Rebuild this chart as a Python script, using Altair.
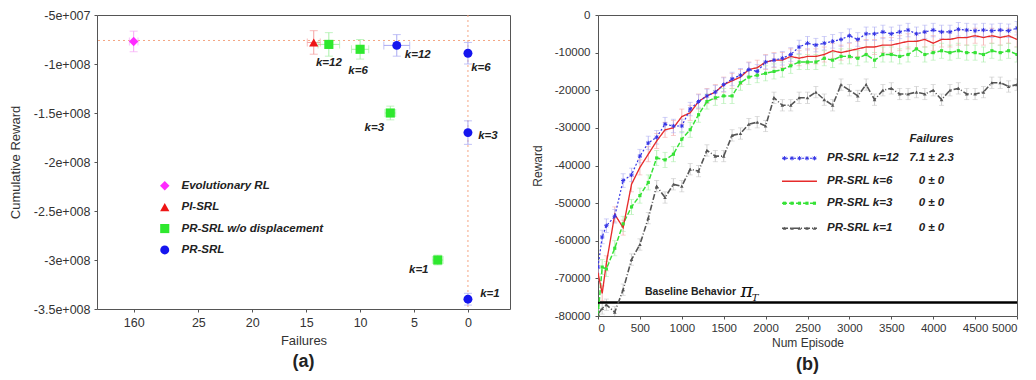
import altair as alt
import pandas as pd
import numpy as np

FONT = "Liberation Sans"
TXT = "#222222"

# ---------------- panel (a) values ----------------
a_methods = ["Evolutionary RL", "PI-SRL", "PR-SRL w/o displacement", "PR-SRL"]
a_method = ["Evolutionary RL", "PI-SRL",
            "PR-SRL w/o displacement", "PR-SRL w/o displacement",
            "PR-SRL w/o displacement", "PR-SRL w/o displacement",
            "PR-SRL", "PR-SRL", "PR-SRL", "PR-SRL"]
a_k = ["", "", "k=12", "k=6", "k=3", "k=1", "k=12", "k=6", "k=3", "k=1"]
a_failures = [160, 14.3, 12.9, 10.0, 7.2, 2.8, 6.6, 0, 0, 0]
a_failures_err = [0.4, 0.6, 1.0, 0.8, 0.5, 0.5, 1.2, 0, 0, 0]
a_reward = [-7.7e7, -7.8e7, -8.0e7, -8.5e7, -1.5e8, -3.0e8, -8.1e7, -8.9e7, -1.7e8, -3.4e8]
a_reward_err = [1.05e7, 1.2e7, 1.2e7, 1.0e7, 0.7e7, 0.5e7, 1.1e7, 1.1e7, 1.2e7, 0.6e7]
a_ref_reward = -7.6e7
a_ref_failures = 0
a_xticks = [160, 25, 20, 15, 10, 5, 0]
a_yticks = [-5e7, -1e8, -1.5e8, -2e8, -2.5e8, -3e8, -3.5e8]
a_ylabels = ["-5e+007", "-1e+008", "-1.5e+008", "-2e+008", "-2.5e+008", "-3e+008", "-3.5e+008"]

# ---------------- panel (b) values ----------------
b_series = ["PR-SRL k=12", "PR-SRL k=6", "PR-SRL k=3", "PR-SRL k=1"]
b_fail_mean = [7.1, 0, 0, 0]
b_fail_sd = [2.3, 0, 0, 0]
b_episodes = [0, 50, 100, 200, 300, 400, 500, 600, 700, 800, 900, 1000,
              1100, 1200, 1300, 1400, 1500, 1600, 1700, 1800, 1900, 2000,
              2100, 2200, 2300, 2400, 2500, 2600, 2700, 2800, 2900, 3000,
              3100, 3200, 3300, 3400, 3500, 3600, 3700, 3800, 3900, 4000,
              4100, 4200, 4300, 4400, 4500, 4600, 4700, 4800, 4900, 5000]
b_k12 = [-67000, -59000, -56000, -53500, -44000, -42500, -37500, -34000, -32500, -29000, -29500, -29500,
         -25000, -23000, -21500, -20500, -18500, -17000, -16000, -14500, -15000, -12500,
         -12000, -11500, -10500, -8500, -7500, -8000, -7500, -7000, -6500, -5500,
         -6500, -5000, -5000, -4500, -5000, -4500, -4000, -5000, -4500, -4000,
         -4500, -4500, -3800, -4000, -4200, -4000, -4200, -4000, -4200, -3500]
b_k6 = [-68500, -74000, -66000, -53000, -56500, -45000, -40500, -37000, -33500, -30500, -30000, -27000,
        -26000, -23000, -21500, -20500, -18500, -17500, -16500, -14500, -14000, -12500,
        -12000, -12000, -11000, -11500, -11000, -11000, -10500, -9500, -10000, -9500,
        -9000, -8500, -8500, -8000, -8000, -7500, -7000, -7000, -6500, -7500,
        -6500, -6500, -6000, -6000, -5500, -6000, -5500, -6000, -5500, -6500]
b_k3 = [-80000, -67000, -67500, -62000, -55500, -51000, -48000, -44500, -38000, -38500, -37000, -33000,
        -30500, -26500, -23000, -22000, -21500, -21500, -18000, -16500, -16000, -15500,
        -15000, -14500, -13500, -12500, -12500, -12500, -11500, -12000, -11000, -11000,
        -11500, -10500, -12000, -10500, -10500, -11000, -10500, -9000, -10500, -10000,
        -9500, -10000, -9500, -10000, -10000, -10500, -9500, -10000, -9500, -10500]
b_k1 = [-79500, -78000, -77000, -79000, -73000, -65000, -61000, -54000, -45500, -48500, -45000, -45500,
        -41000, -41500, -36000, -37500, -37500, -32000, -31500, -29000, -28500, -29500,
        -22000, -24000, -24000, -22000, -22000, -20500, -22500, -24000, -18500, -20000,
        -21500, -18500, -22500, -20000, -19500, -21000, -21000, -20500, -21000, -20000,
        -22500, -20000, -19500, -21000, -21000, -20500, -18000, -18000, -19000, -18500]
b_err = [1800, 2000, 2000, 1500]
b_baseline = -76400
b_xticks = [0, 500, 1000, 1500, 2000, 2500, 3000, 3500, 4000, 4500, 5000]
b_yticks = [0, -10000, -20000, -30000, -40000, -50000, -60000, -70000, -80000]

# ---------------- styles / layout ----------------
a_colors = ["#ff2bff", "#ee1515", "#2ee82e", "#1515ee"]
a_err_colors = {"Evolutionary RL": "#f7a8f7", "PI-SRL": "#f5a0a0",
                "PR-SRL w/o displacement": "#a8f0a8", "PR-SRL": "#a8a8f2"}
a_shapes = ["diamond", "triangle-up", "square", "circle"]
a_sizes = [90, 80, 140, 100]
BREAK_AT, BREAK_POS = 30, 31
k_offsets = {2: (0, 19), 3: (-2, 22), 4: (-16, 15), 5: (-19, 10),
             6: (21, 10), 7: (13, 15), 8: (20, 3), 9: (22, -5)}

b_colors = ["#3535e6", "#e62b2b", "#36e236", "#555555"]
b_err_colors = ["#b0b0f2", "#f2a8a8", "#aaeeaa", "#c4c4c4"]
b_dashes = [[2, 2], [1, 0], [5, 2], [6, 2, 1, 2]]
b_widths = [1.2, 1.6, 1.3, 1.0]
LEG_SAMPLE = (2196, 2613)
LEG_LABEL_X = 2733
LEG_FAIL_X = 3980
LEG_ROWS = [-38070, -44190, -50030, -56680]
LEG_HEAD_Y = -33020

# ================= panel (a) =================
pos = [BREAK_POS if f > BREAK_AT else f for f in a_failures]
df_a = pd.DataFrame(dict(method=a_method, k=a_k, failures=a_failures, pos=pos,
                         reward=a_reward, rerr=a_reward_err, ferr=a_failures_err))
df_a["r_lo"] = df_a.reward - df_a.rerr
df_a["r_hi"] = df_a.reward + df_a.rerr
df_a["p_lo"] = df_a.pos - df_a.ferr
df_a["p_hi"] = df_a.pos + df_a.ferr
df_a["ecol"] = df_a.method.map(a_err_colors)

a_xtick_pos = [BREAK_POS if v > BREAK_AT else v for v in a_xticks]
x_label_expr = f"datum.value == {BREAK_POS} ? '{a_xticks[0]}' : toString(datum.value)"
y_label_expr = " : ".join(f"datum.value == {int(v)} ? '{lab}'" for v, lab in zip(a_yticks, a_ylabels)) + " : datum.label"

a_xscale = alt.Scale(domain=[-3.9, 34.4], reverse=True, nice=False, zero=False)
a_yscale = alt.Scale(domain=[-3.5e8, -5e7], nice=False, zero=False)
a_xaxis = alt.Axis(values=a_xtick_pos, labelExpr=x_label_expr, title="Failures",
                   labelFontSize=12.5, titleFontSize=13, labelPadding=4, titlePadding=6)
a_yaxis = alt.Axis(values=a_yticks, labelExpr=y_label_expr, title="Cumulative Reward",
                   labelFontSize=12.5, titleFontSize=13, labelPadding=4, titlePadding=11)


def xa(f):
    return alt.X(f, type="quantitative", scale=a_xscale, axis=a_xaxis)


def ya(f):
    return alt.Y(f, type="quantitative", scale=a_yscale, axis=a_yaxis)


ref_h = alt.Chart(pd.DataFrame({"reward": [a_ref_reward]})).mark_rule(
    color="#f4a582", strokeDash=[2, 3], strokeWidth=1).encode(y=ya("reward"))
ref_v = alt.Chart(pd.DataFrame({"pos": [a_ref_failures]})).mark_rule(
    color="#f4a582", strokeDash=[2, 3], strokeWidth=1).encode(x=xa("pos"))

base_a = alt.Chart(df_a)
err_y = base_a.mark_rule(strokeWidth=1).encode(
    x=xa("pos"), y=ya("r_lo"), y2="r_hi", stroke=alt.Stroke("ecol:N", scale=None))
cap_lo = base_a.mark_tick(orient="horizontal", size=8, thickness=1).encode(
    x=xa("pos"), y=ya("r_lo"), fill=alt.Fill("ecol:N", scale=None))
cap_hi = base_a.mark_tick(orient="horizontal", size=8, thickness=1).encode(
    x=xa("pos"), y=ya("r_hi"), fill=alt.Fill("ecol:N", scale=None))
base_ax = alt.Chart(df_a[df_a.ferr > 0])
err_x = base_ax.mark_rule(strokeWidth=1).encode(
    x=xa("p_lo"), x2="p_hi", y=ya("reward"), stroke=alt.Stroke("ecol:N", scale=None))
capx_lo = base_ax.mark_tick(orient="vertical", size=8, thickness=1).encode(
    x=xa("p_lo"), y=ya("reward"), fill=alt.Fill("ecol:N", scale=None))
capx_hi = base_ax.mark_tick(orient="vertical", size=8, thickness=1).encode(
    x=xa("p_hi"), y=ya("reward"), fill=alt.Fill("ecol:N", scale=None))

leg_a = alt.Legend(orient="none", legendX=62, legendY=165, title=None,
                   labelFont=FONT, labelFontSize=11.5, labelFontWeight="bold",
                   labelFontStyle="italic", labelColor=TXT, symbolSize=95,
                   rowPadding=8.4, labelOffset=11, padding=0)
pts_a = base_a.mark_point(filled=True, opacity=1).encode(
    x=xa("pos"), y=ya("reward"),
    color=alt.Color("method:N", scale=alt.Scale(domain=a_methods, range=a_colors), legend=leg_a),
    shape=alt.Shape("method:N", scale=alt.Scale(domain=a_methods, range=a_shapes), legend=leg_a),
    size=alt.Size("method:N", scale=alt.Scale(domain=a_methods, range=a_sizes), legend=None),
)

k_layers = []
for i, (dx, dy) in k_offsets.items():
    k_layers.append(
        alt.Chart(df_a.iloc[[i]]).mark_text(
            dx=dx, dy=dy, font=FONT, fontSize=11.5, fontWeight="bold", fontStyle="italic",
            color=TXT, align="center", baseline="middle").encode(
            x=xa("pos"), y=ya("reward"), text="k:N"))

left = alt.layer(ref_h, ref_v, err_y, cap_lo, cap_hi, err_x, capx_lo, capx_hi, pts_a, *k_layers).properties(
    width=413, height=294,
    title=alt.TitleParams("(a)", orient="bottom", font=FONT, fontSize=18, fontWeight="bold",
                          color=TXT, offset=5))

# ================= panel (b) =================
b_values = [b_k12, b_k6, b_k3, b_k1]
rows = []
for s, vals, e, ec in zip(b_series, b_values, b_err, b_err_colors):
    for ep, r in zip(b_episodes, vals):
        rows.append(dict(series=s, ep=ep, reward=r, lo=r - e, hi=r + e, ecol=ec))
df_b = pd.DataFrame(rows)
draw_rank = {s: i for i, s in enumerate(reversed(b_series))}
df_b["rank"] = df_b.series.map(draw_rank)
df_b = df_b.sort_values(["rank", "ep"]).reset_index(drop=True)

b_xscale = alt.Scale(domain=[0, 5000], nice=False, zero=False)
b_yscale = alt.Scale(domain=[-80000, 0], nice=False, zero=False)
b_xaxis = alt.Axis(values=b_xticks, labelExpr="toString(datum.value)", title="Num Episode",
                   labelFontSize=11.5, titleFontSize=12, labelPadding=3, titlePadding=4)
b_yaxis = alt.Axis(values=b_yticks, labelExpr="toString(datum.value)", title="Reward",
                   labelFontSize=11.5, titleFontSize=12, labelPadding=5, titlePadding=10)


def xb(f):
    return alt.X(f, type="quantitative", scale=b_xscale, axis=b_xaxis)


def yb(f):
    return alt.Y(f, type="quantitative", scale=b_yscale, axis=b_yaxis)


colB = alt.Color("series:N", scale=alt.Scale(domain=b_series, range=b_colors), legend=None)
dashB = alt.StrokeDash("series:N", scale=alt.Scale(domain=b_series, range=b_dashes), legend=None)
swB = alt.StrokeWidth("series:N", scale=alt.Scale(domain=b_series, range=b_widths), legend=None)

base_b = alt.Chart(df_b)
err_b = base_b.mark_rule(strokeWidth=0.8, clip=True).encode(
    x=xb("ep"), y=yb("lo"), y2="hi", stroke=alt.Stroke("ecol:N", scale=None))
capb_lo = base_b.mark_tick(orient="horizontal", size=5, thickness=0.8, clip=True).encode(
    x=xb("ep"), y=yb("lo"), fill=alt.Fill("ecol:N", scale=None))
capb_hi = base_b.mark_tick(orient="horizontal", size=5, thickness=0.8, clip=True).encode(
    x=xb("ep"), y=yb("hi"), fill=alt.Fill("ecol:N", scale=None))

baseline = alt.Chart(pd.DataFrame({"reward": [b_baseline]})).mark_rule(
    color="#000000", strokeWidth=2.6).encode(y=yb("reward"))

lines_b = base_b.mark_line(clip=True).encode(
    x=xb("ep"), y=yb("reward"), color=colB, strokeDash=dashB, strokeWidth=swB,
    order=alt.Order("ep:Q"))

STAR = "M0,-1L0,1M-1,0L1,0M-0.7,-0.7L0.7,0.7M-0.7,0.7L0.7,-0.7"
marker_specs = {b_series[0]: dict(shape=STAR, filled=False, size=18, strokeWidth=1),
                b_series[2]: dict(shape="square", filled=True, size=10),
                b_series[3]: dict(shape="triangle-up", filled=True, size=13)}
marker_layers = []
for s, spec in marker_specs.items():
    marker_layers.append(
        alt.Chart(df_b[df_b.series == s]).mark_point(opacity=1, clip=True, **spec).encode(
            x=xb("ep"), y=yb("reward"), color=colB))

# legend (manual, inside plot)
fail_txt = [f"{m:g} \u00b1 {s:g}" for m, s in zip(b_fail_mean, b_fail_sd)]
leg_df = pd.DataFrame(dict(series=b_series, y=LEG_ROWS, x0=LEG_SAMPLE[0], x1=LEG_SAMPLE[1],
                           xl=LEG_LABEL_X, xf=LEG_FAIL_X, fail=fail_txt))
leg_rule = alt.Chart(leg_df).mark_rule().encode(
    x=xb("x0"), x2="x1", y=yb("y"), color=colB, strokeDash=dashB, strokeWidth=swB)
leg_marker_layers = []
for s, spec in marker_specs.items():
    yy = LEG_ROWS[b_series.index(s)]
    xs = np.linspace(LEG_SAMPLE[0] + 30, LEG_SAMPLE[1] - 30, 5)
    mdf = pd.DataFrame(dict(series=s, ep=xs, reward=yy))
    leg_marker_layers.append(
        alt.Chart(mdf).mark_point(opacity=1, **spec).encode(x=xb("ep"), y=yb("reward"), color=colB))
leg_lab = alt.Chart(leg_df).mark_text(
    align="left", baseline="middle", font=FONT, fontSize=11.5, fontWeight="bold",
    fontStyle="italic", color=TXT).encode(x=xb("xl"), y=yb("y"), text="series:N")
leg_fail = alt.Chart(leg_df).mark_text(
    align="center", baseline="middle", font=FONT, fontSize=11.5, fontWeight="bold",
    fontStyle="italic", color=TXT).encode(x=xb("xf"), y=yb("y"), text="fail:N")
leg_head = alt.Chart(pd.DataFrame(dict(x=[LEG_FAIL_X], y=[LEG_HEAD_Y], t=["Failures"]))).mark_text(
    align="center", baseline="middle", font=FONT, fontSize=11.5, fontWeight="bold",
    fontStyle="italic", color=TXT).encode(x=xb("x"), y=yb("y"), text="t:N")

# baseline annotation
ann = pd.DataFrame(dict(x=[560], y=[-73560], t=["Baseline Behavior"]))
ann_txt = alt.Chart(ann).mark_text(
    align="left", baseline="middle", font=FONT, fontSize=10.5, fontWeight="bold", color=TXT).encode(
    x=xb("x"), y=yb("y"), text="t:N")
pi_df = pd.DataFrame(dict(x=[1700], y=[-73300], t=["\u03c0"]))
pi_txt = alt.Chart(pi_df).mark_text(
    align="left", baseline="middle", font="DejaVu Serif", fontSize=19, fontStyle="italic",
    color="#111111").encode(x=xb("x"), y=yb("y"), text="t:N")
sub_df = pd.DataFrame(dict(x=[1835], y=[-75100], t=["T"]))
sub_txt = alt.Chart(sub_df).mark_text(
    align="left", baseline="middle", font="DejaVu Serif", fontSize=10, fontStyle="italic",
    color="#111111").encode(x=xb("x"), y=yb("y"), text="t:N")

right = alt.layer(err_b, capb_lo, capb_hi, baseline, lines_b, *marker_layers,
                  leg_rule, *leg_marker_layers, leg_lab, leg_fail, leg_head,
                  ann_txt, pi_txt, sub_txt).properties(
    width=419, height=301,
    title=alt.TitleParams("(b)", orient="bottom", font=FONT, fontSize=18, fontWeight="bold",
                          color=TXT, offset=7))

chart = alt.hconcat(left, right, spacing=19).resolve_scale(
    color="independent", shape="independent", size="independent",
    strokeDash="independent", strokeWidth="independent",
    stroke="independent", fill="independent"
).resolve_legend(color="independent", shape="independent").properties(padding=0).configure_axis(
    labelFont=FONT, titleFont=FONT, labelColor="#333333", titleColor="#333333",
    titleFontWeight="normal", grid=False, domain=False, tickColor="#555555", tickSize=3
).configure_view(stroke="#555555", strokeWidth=1)

chart.save("out.html", embed_options={"renderer": "svg", "actions": False})
